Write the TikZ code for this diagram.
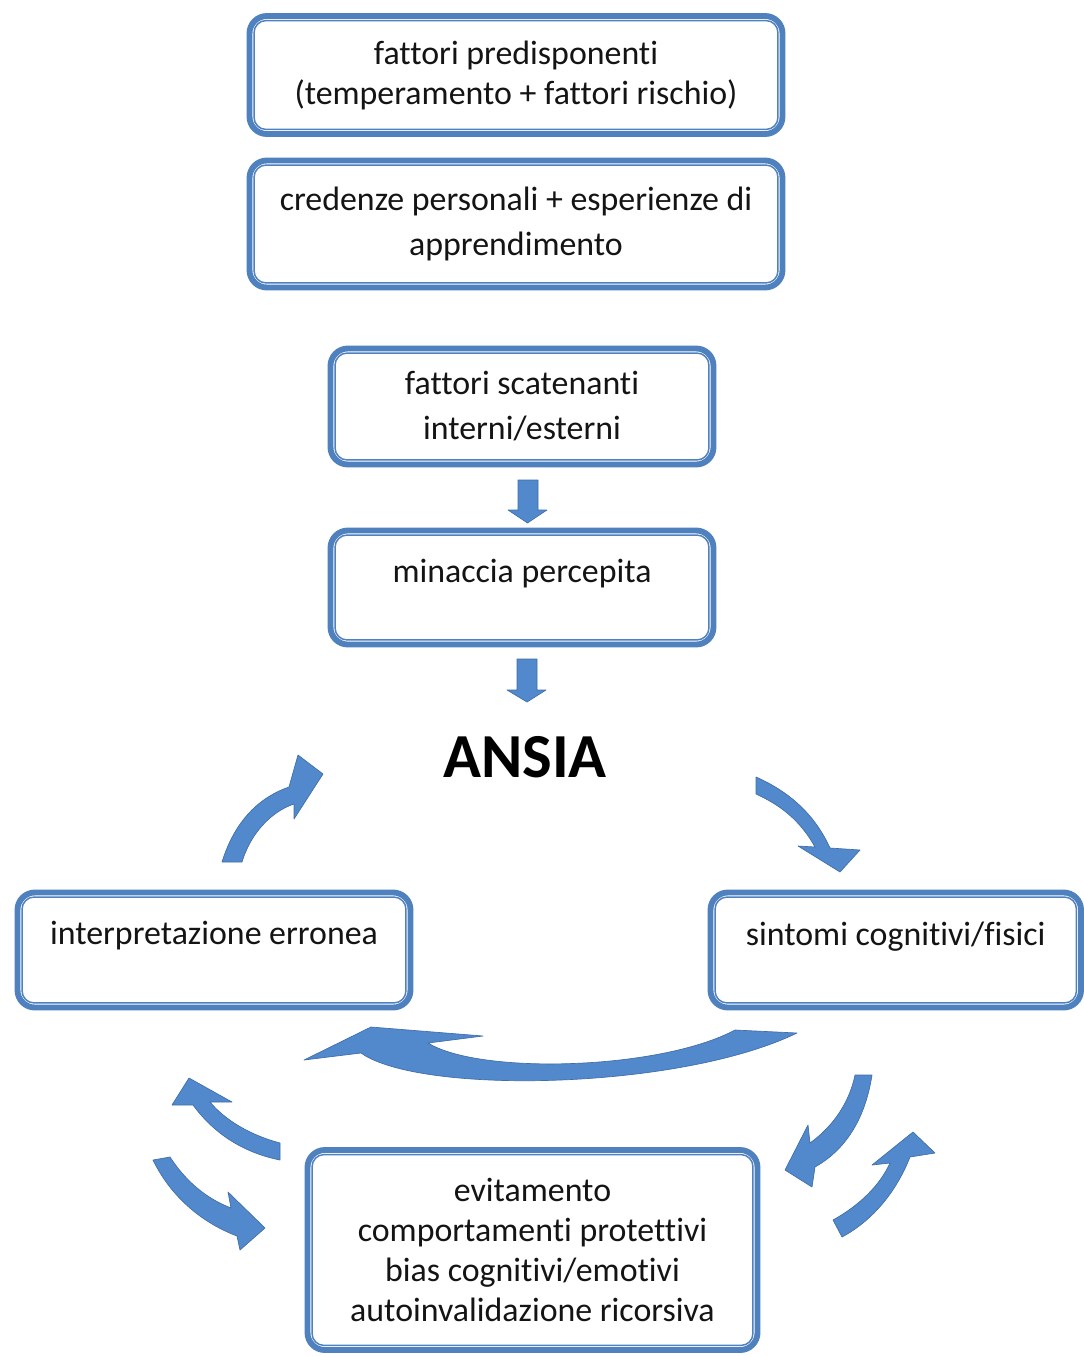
\documentclass[tikz,border=0pt]{standalone}
\usepackage{fontspec}
\setmainfont{Carlito}[Ligatures=NoCommon]
\definecolor{boxblue}{RGB}{79,129,191}
\definecolor{arrfill}{RGB}{82,136,204}
\definecolor{arrline}{RGB}{64,110,168}
\definecolor{txt}{RGB}{20,20,20}
\tikzset{
  box/.style={draw=boxblue, line width=4.4pt, rounded corners=13pt, fill=white,
    inner sep=0pt, align=center, text=txt, font=\fontsize{25.4}{30}\selectfont},
  boxwide/.style={box, font=\fontsize{25.4}{33.75}\selectfont},
  toptext/.style={text depth=25pt},
  innerline/.style={draw=boxblue, line width=1.1pt, rounded corners=9pt},
  blockarrow/.style={fill=arrfill, draw=arrline, line width=0.5pt, line join=round},
}
\begin{document}
\begin{tikzpicture}[x=0.75pt, y=-0.75pt]
\useasboundingbox (0,0) rectangle (1084,1356);
\fill[white] (0,0) rectangle (1084,1356);

\node[box, minimum width=399.75pt, minimum height=88.5pt] (b1) at (516,75)
  {fattori predisponenti\\(temperamento + fattori rischio)};
\node[boxwide, minimum width=399.75pt, minimum height=95.25pt] (b2) at (516,224)
  {credenze personali + esperienze di\\apprendimento};
\node[boxwide, minimum width=287.25pt, minimum height=87pt] (b3) at (522,406.5)
  {fattori scatenanti\\interni/esterni};
\node[box, toptext, minimum width=287.25pt, minimum height=85.5pt] (b4) at (522,587.5)
  {minaccia percepita};
\node[text=black, font=\bfseries\fontsize{47}{56}\selectfont, inner sep=0pt] (ansia) at (525,757.5) {ANSIA};
\node[box, toptext, minimum width=294.75pt, minimum height=86.25pt] (b5) at (214,950)
  {interpretazione erronea};
\node[box, toptext, minimum width=277.9pt, minimum height=86.25pt] (b6) at (895.75,950)
  {sintomi cognitivi/fisici};
\node[box, minimum width=337.5pt, minimum height=150pt] (b7) at (532.5,1250)
  {evitamento\\comportamenti protettivi\\bias cognitivi/emotivi\\autoinvalidazione ricorsiva};

\foreach \n in {b1,b2,b3,b4,b5,b6,b7}
  \draw[innerline] ([shift={(7.5,7.5)}]\n.north west) rectangle ([shift={(-7.5,-7.5)}]\n.south east);

% straight block arrows
\draw[blockarrow] (518,480) -- (538,480) -- (538,510) -- (547,510) -- (527.5,523) -- (508,510) -- (518,510) -- cycle;
\draw[blockarrow] (517,659) -- (537,659) -- (537,690) -- (546,690) -- (527,702) -- (507,690) -- (517,690) -- cycle;

% upper left curved arrow (interpretazione -> ANSIA)
\draw[blockarrow] (222,862) .. controls (235,820) and (260,797) .. (289,787)
  -- (298,755) -- (323,774) -- (294,819) -- (294,804)
  .. controls (270,812) and (250,835) .. (242,862) -- cycle;

% upper right curved arrow (ANSIA -> sintomi)
\draw[blockarrow] (756,777) .. controls (790,792) and (815,815) .. (830,848)
  -- (860,850) -- (840,872) -- (798,846) -- (815,847)
  .. controls (800,820) and (780,805) .. (756,794) -- cycle;

% big bottom arrow (sintomi -> interpretazione)
\draw[blockarrow] (797,1033) .. controls (680,1090) and (420,1095) .. (361,1053)
  -- (304,1060) -- (371,1027) -- (483,1036) -- (428,1043)
  .. controls (480,1075) and (660,1070) .. (735,1030) -- cycle;

% left small arrows
\draw[blockarrow] (280,1143) .. controls (250,1135) and (225,1120) .. (210,1102)
  -- (232,1102) -- (189,1078) -- (172,1105) -- (193,1105)
  .. controls (215,1135) and (245,1153) .. (280,1160) -- cycle;
\draw[blockarrow] (153,1160) -- (170,1157) .. controls (185,1180) and (205,1198) .. (231,1208)
  -- (228,1192) -- (265,1228) -- (240,1250) -- (237,1236)
  .. controls (200,1222) and (170,1195) .. (153,1160) -- cycle;

% right small arrows
\draw[blockarrow] (855,1075) -- (872,1075) .. controls (865,1120) and (845,1150) .. (815,1167)
  -- (812,1187) -- (785,1170) -- (808,1125) -- (810,1143)
  .. controls (835,1125) and (850,1100) .. (855,1075) -- cycle;
\draw[blockarrow] (833,1220) .. controls (860,1205) and (880,1185) .. (890,1163)
  -- (872,1165) -- (913,1132) -- (935,1153) -- (910,1157)
  .. controls (895,1195) and (870,1222) .. (842,1237) -- cycle;
\end{tikzpicture}
\end{document}
